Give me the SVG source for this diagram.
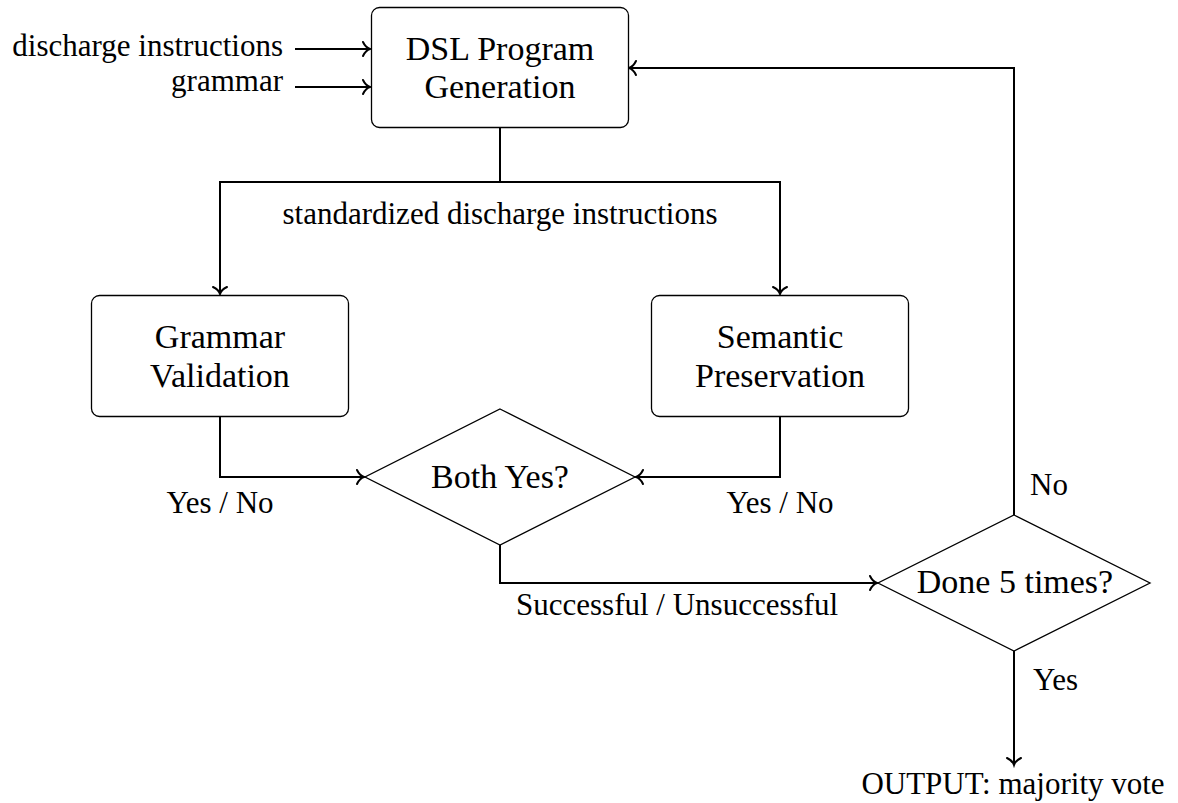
<svg xmlns="http://www.w3.org/2000/svg" width="1178" height="803" viewBox="0 0 1178 803">
<style>
  .node { fill: #fff; stroke: #000; stroke-width: 1.3; }
  .conn { fill: none; stroke: #000; stroke-width: 2; }
  .nt { font-family: 'Liberation Serif', 'DejaVu Serif', serif; font-size: 34px; fill: #000; text-anchor: middle; }
  .lt { font-family: 'Liberation Serif', 'DejaVu Serif', serif; font-size: 31px; fill: #000; }
</style>
<defs>
  <marker id="arr" markerUnits="userSpaceOnUse" markerWidth="20" markerHeight="20" viewBox="-10 -10 20 20" refX="0" refY="0" orient="auto">
    <path d="M -7 -7 C -5 -2.8, -2.2 -0.7, 0 0 C -2.2 0.7, -5 2.8, -7 7" fill="none" stroke="#000" stroke-width="2" stroke-linecap="round"/>
  </marker>
</defs>
<rect width="1178" height="803" fill="#fff"/>
<g id="connectors">
  <path class="conn" d="M 295 49 H 370" marker-end="url(#arr)"/>
  <path class="conn" d="M 295 87 H 370" marker-end="url(#arr)"/>
  <path class="conn" d="M 500 128 V 182 H 220 V 294" marker-end="url(#arr)"/>
  <path class="conn" d="M 500 182 H 780 V 294" marker-end="url(#arr)"/>
  <path class="conn" d="M 220 416 V 477 H 364" marker-end="url(#arr)"/>
  <path class="conn" d="M 780 416 V 477 H 636" marker-end="url(#arr)"/>
  <path class="conn" d="M 500 545 V 583 H 877" marker-end="url(#arr)"/>
  <path class="conn" d="M 1014 515 V 68 H 629" marker-end="url(#arr)"/>
  <path class="conn" d="M 1014 651 V 765" marker-end="url(#arr)"/>
</g>
<g id="labels">
  <text class="lt" x="283" y="56" text-anchor="end">discharge instructions</text>
  <text class="lt" x="283" y="91" text-anchor="end">grammar</text>
  <text class="lt" x="500" y="224" text-anchor="middle">standardized discharge instructions</text>
  <text class="lt" x="220" y="513" text-anchor="middle">Yes / No</text>
  <text class="lt" x="780" y="513" text-anchor="middle">Yes / No</text>
  <text class="lt" x="677" y="615" text-anchor="middle">Successful / Unsuccessful</text>
  <text class="lt" x="1030" y="495">No</text>
  <text class="lt" x="1033" y="690">Yes</text>
  <text class="lt" x="1013" y="794" text-anchor="middle">OUTPUT: majority vote</text>
</g>
<g id="dsl">
  <rect class="node" x="371.5" y="7.5" width="257" height="120" rx="8"/>
  <text class="nt" x="500" y="60">DSL Program</text>
  <text class="nt" x="500" y="98">Generation</text>
</g>
<g id="grammar-validation">
  <rect class="node" x="91.5" y="295.5" width="257" height="121" rx="8"/>
  <text class="nt" x="220" y="348">Grammar</text>
  <text class="nt" x="220" y="387">Validation</text>
</g>
<g id="semantic-preservation">
  <rect class="node" x="651.5" y="295.5" width="257" height="121" rx="8"/>
  <text class="nt" x="780" y="348">Semantic</text>
  <text class="nt" x="780" y="387">Preservation</text>
</g>
<g id="both-yes">
  <polygon class="node" points="500,409 635,477 500,545 365,477"/>
  <text class="nt" x="500" y="488">Both Yes?</text>
</g>
<g id="done-5">
  <polygon class="node" points="1014,515 1150,583 1014,651 878,583"/>
  <text class="nt" x="1015" y="593">Done 5 times?</text>
</g>
</svg>
